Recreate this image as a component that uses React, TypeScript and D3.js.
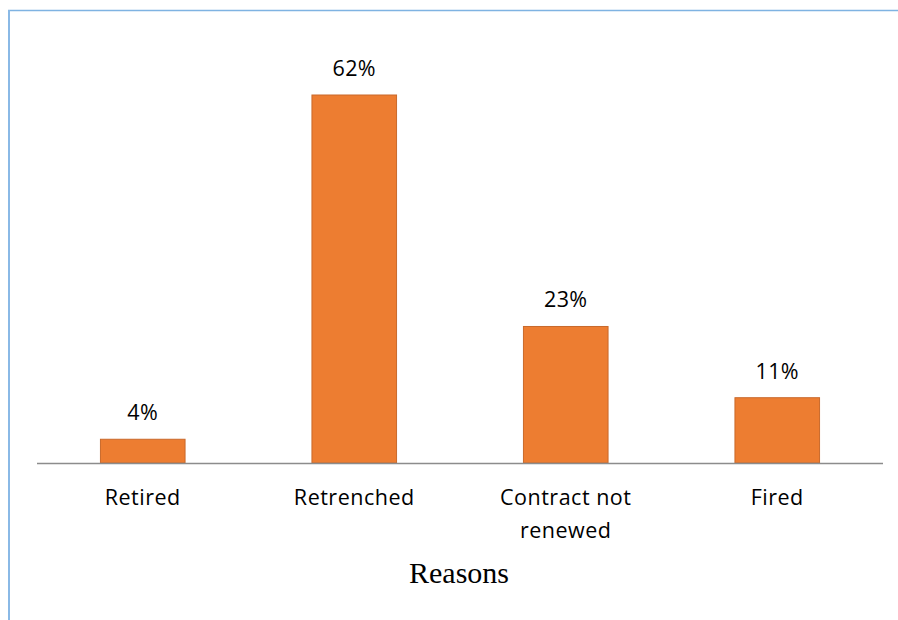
import React from "react";
import * as d3 from "d3";

// Reasons for leaving employment, share of respondents (%)
const categories: string[][] = [["Retired"], ["Retrenched"], ["Contract not", "renewed"], ["Fired"]];
const values: number[] = [4, 62, 23, 11];
const axisTitle = "Reasons";

const W = 898;
const H = 620;

export default function App() {
  const x = d3
    .scaleBand<number>()
    .domain(d3.range(values.length))
    .range([37, 883])
    .paddingInner(0.6)
    .paddingOuter(0.3);

  const y = d3.scaleLinear().domain([0, 62]).range([463, 95]);

  const labelFont = "'Open Sans', 'DejaVu Sans', sans-serif";

  return (
    <svg
      width={W}
      height={H}
      style={{ position: "absolute", left: 0, top: 0, background: "#ffffff" }}
    >
      {/* frame */}
      <line x1={8} x2={898} y1={10.5} y2={10.5} stroke="#7fb3e2" strokeWidth={1.5} />
      <line x1={9} x2={9} y1={10} y2={H} stroke="#8ab9e6" strokeWidth={2} />

      {/* bars */}
      {values.map((v, i) => (
        <rect
          key={i}
          x={x(i)!}
          y={y(v)}
          width={x.bandwidth()}
          height={y(0) - y(v)}
          fill="#ed7d31"
          stroke="#c9692b"
          strokeWidth={1}
        />
      ))}

      {/* baseline */}
      <line x1={37} x2={883} y1={y(0) + 0.5} y2={y(0) + 0.5} stroke="#8c8c8c" strokeWidth={1.3} />

      {/* value labels */}
      {values.map((v, i) => (
        <text
          key={i}
          x={x(i)! + x.bandwidth() / 2}
          y={y(v) - 19}
          textAnchor="middle"
          fontFamily={labelFont}
          fontSize={21.5}
          letterSpacing={0.4}
          fill="#000"
        >
          {v}%
        </text>
      ))}

      {/* category labels */}
      {categories.map((lines, i) => (
        <text
          key={i}
          x={x(i)! + x.bandwidth() / 2}
          y={505}
          textAnchor="middle"
          fontFamily={labelFont}
          fontSize={21.5}
          letterSpacing={0.5}
          fill="#000"
        >
          {lines.map((ln, j) => (
            <tspan key={j} x={x(i)! + x.bandwidth() / 2} dy={j === 0 ? 0 : 33}>
              {ln}
            </tspan>
          ))}
        </text>
      ))}

      {/* axis title */}
      <text
        x={459}
        y={583}
        textAnchor="middle"
        fontFamily="'Liberation Serif', 'Times New Roman', serif"
        fontSize={30}
        fill="#000"
      >
        {axisTitle}
      </text>
    </svg>
  );
}
